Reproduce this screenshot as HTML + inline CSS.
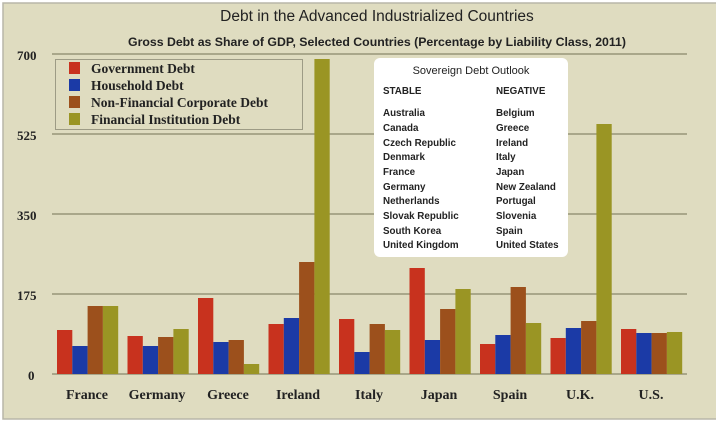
<!DOCTYPE html>
<html><head><meta charset="utf-8"><style>
html,body{margin:0;padding:0;background:#fff;overflow:hidden;}
svg{display:block;}
</style></head><body>
<svg width="716" height="425" xmlns="http://www.w3.org/2000/svg" font-family="Liberation Serif, serif">
<rect x="3" y="3" width="716" height="416" fill="#dfdcc0" stroke="#b8b6a8" stroke-width="1.5"/>
<text x="377" y="21" text-anchor="middle" font-family="Liberation Sans, sans-serif" font-size="15.5" fill="#222">Debt in the Advanced Industrialized Countries</text>
<text x="377" y="46" text-anchor="middle" font-family="Liberation Sans, sans-serif" font-size="12.3" font-weight="bold" fill="#222">Gross Debt as Share of GDP, Selected Countries (Percentage by Liability Class, 2011)</text>
<g stroke="#a9a78a" stroke-width="2">
<line x1="52" y1="54" x2="687" y2="54"/>
<line x1="52" y1="134" x2="687" y2="134"/>
<line x1="52" y1="214" x2="687" y2="214"/>
<line x1="52" y1="294" x2="687" y2="294"/>
<line x1="52" y1="374" x2="687" y2="374"/>
</g>
<g font-size="13" font-weight="bold" fill="#222">
<text x="17" y="60">700</text><text x="17" y="140">525</text><text x="17" y="220">350</text><text x="17" y="300">175</text><text x="28" y="380">0</text>
</g>
<g stroke="none">
<rect x="57" y="330" width="15.3" height="44" fill="#c8321e"/><rect x="72.3" y="346" width="15.3" height="28" fill="#1b3aa6"/><rect x="87.6" y="306" width="15.3" height="68" fill="#9c501c"/><rect x="102.9" y="306" width="15.3" height="68" fill="#9a9524"/>
<rect x="127.5" y="336" width="15.3" height="38" fill="#c8321e"/><rect x="142.8" y="346" width="15.3" height="28" fill="#1b3aa6"/><rect x="158.1" y="337" width="15.3" height="37" fill="#9c501c"/><rect x="173.4" y="329" width="15.3" height="45" fill="#9a9524"/>
<rect x="198" y="298" width="15.3" height="76" fill="#c8321e"/><rect x="213.3" y="342" width="15.3" height="32" fill="#1b3aa6"/><rect x="228.6" y="340" width="15.3" height="34" fill="#9c501c"/><rect x="243.9" y="364" width="15.3" height="10" fill="#9a9524"/>
<rect x="268.5" y="324" width="15.3" height="50" fill="#c8321e"/><rect x="283.8" y="318" width="15.3" height="56" fill="#1b3aa6"/><rect x="299.1" y="262" width="15.3" height="112" fill="#9c501c"/><rect x="314.4" y="59" width="15.3" height="315" fill="#9a9524"/>
<rect x="339" y="319" width="15.3" height="55" fill="#c8321e"/><rect x="354.3" y="352" width="15.3" height="22" fill="#1b3aa6"/><rect x="369.6" y="324" width="15.3" height="50" fill="#9c501c"/><rect x="384.9" y="330" width="15.3" height="44" fill="#9a9524"/>
<rect x="409.5" y="268" width="15.3" height="106" fill="#c8321e"/><rect x="424.8" y="340" width="15.3" height="34" fill="#1b3aa6"/><rect x="440.1" y="309" width="15.3" height="65" fill="#9c501c"/><rect x="455.4" y="289" width="15.3" height="85" fill="#9a9524"/>
<rect x="480" y="344" width="15.3" height="30" fill="#c8321e"/><rect x="495.3" y="335" width="15.3" height="39" fill="#1b3aa6"/><rect x="510.6" y="287" width="15.3" height="87" fill="#9c501c"/><rect x="525.9" y="323" width="15.3" height="51" fill="#9a9524"/>
<rect x="550.5" y="338" width="15.3" height="36" fill="#c8321e"/><rect x="565.8" y="328" width="15.3" height="46" fill="#1b3aa6"/><rect x="581.1" y="321" width="15.3" height="53" fill="#9c501c"/><rect x="596.4" y="124" width="15.3" height="250" fill="#9a9524"/>
<rect x="621" y="329" width="15.3" height="45" fill="#c8321e"/><rect x="636.3" y="333" width="15.3" height="41" fill="#1b3aa6"/><rect x="651.6" y="333" width="15.3" height="41" fill="#9c501c"/><rect x="666.9" y="332" width="15.3" height="42" fill="#9a9524"/>
</g>
<g font-size="14" font-weight="bold" fill="#222" text-anchor="middle">
<text x="87" y="399">France</text><text x="157" y="399">Germany</text><text x="228" y="399">Greece</text><text x="298" y="399">Ireland</text><text x="369" y="399">Italy</text><text x="439" y="399">Japan</text><text x="510" y="399">Spain</text><text x="580" y="399">U.K.</text><text x="651" y="399">U.S.</text>
</g>
<rect x="55.5" y="59.5" width="247" height="70" fill="#dfdcc0" stroke="#9d9b85" stroke-width="1"/>
<rect x="69" y="62" width="11" height="12" fill="#c8321e"/>
<rect x="69" y="79" width="11" height="12" fill="#1b3aa6"/>
<rect x="69" y="96" width="11" height="12" fill="#9c501c"/>
<rect x="69" y="113" width="11" height="12" fill="#9a9524"/>
<g font-size="13.5" font-weight="bold" fill="#222">
<text x="91" y="73">Government Debt</text>
<text x="91" y="90">Household Debt</text>
<text x="91" y="107">Non-Financial Corporate Debt</text>
<text x="91" y="124">Financial Institution Debt</text>
</g>
<rect x="374" y="58" width="194" height="199" rx="6" fill="#fff"/>
<g font-family="Liberation Sans, sans-serif" font-size="9.8" fill="#222">
<text x="471" y="74" text-anchor="middle" font-size="11">Sovereign Debt Outlook</text>
<g font-weight="bold">
<text x="383" y="94">STABLE</text><text x="496" y="94">NEGATIVE</text>
<text x="383" y="116">Australia</text><text x="496" y="116">Belgium</text>
<text x="383" y="131">Canada</text><text x="496" y="131">Greece</text>
<text x="383" y="146">Czech Republic</text><text x="496" y="146">Ireland</text>
<text x="383" y="160">Denmark</text><text x="496" y="160">Italy</text>
<text x="383" y="175">France</text><text x="496" y="175">Japan</text>
<text x="383" y="190">Germany</text><text x="496" y="190">New Zealand</text>
<text x="383" y="204">Netherlands</text><text x="496" y="204">Portugal</text>
<text x="383" y="219">Slovak Republic</text><text x="496" y="219">Slovenia</text>
<text x="383" y="234">South Korea</text><text x="496" y="234">Spain</text>
<text x="383" y="248">United Kingdom</text><text x="496" y="248">United States</text>
</g>
</g>
</svg>
</body></html>
